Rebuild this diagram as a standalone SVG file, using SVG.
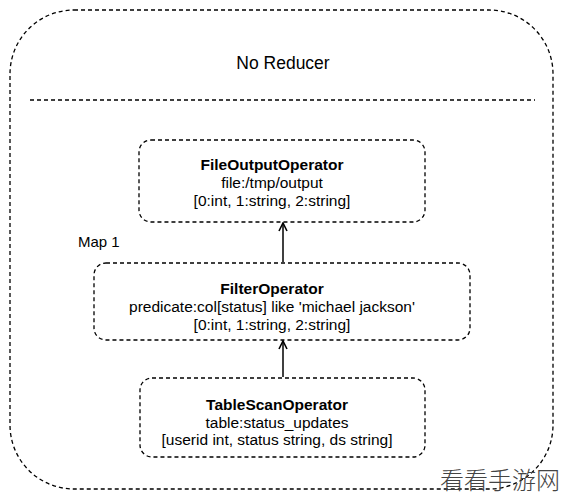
<svg xmlns="http://www.w3.org/2000/svg" width="565" height="500" viewBox="0 0 565 500">
<defs>
<style>
.dash{fill:none;stroke:#000;stroke-width:1.3;stroke-dasharray:4 3}
.t{font-family:"Liberation Sans",Arial,sans-serif;font-size:15.5px;fill:#000;text-anchor:middle}
.b{font-weight:bold}
.c{stroke:#000;stroke-width:1.5;fill:none}
</style>
<marker id="ah" viewBox="0 0 10 10" refX="9" refY="5" markerWidth="10" markerHeight="10" markerUnits="userSpaceOnUse" orient="auto">
<path d="M1,1 L9,5 L1,9" fill="none" stroke="#000" stroke-width="1.6"/>
</marker>
</defs>
<rect width="565" height="500" fill="#fff"/>
<g id="container">
<rect class="dash" x="10" y="10" width="543" height="479" rx="64" ry="64"/>
<text class="t" x="283" y="69" style="font-size:17.5px">No Reducer</text>
<line class="dash" x1="30" y1="100" x2="535" y2="100"/>
<text class="t" x="78" y="247" style="text-anchor:start;font-size:15px">Map 1</text>
</g>
<g id="fileoutput">
<rect class="dash" x="139" y="140" width="286" height="82" rx="12" ry="12"/>
<text class="t b" x="272" y="170">FileOutputOperator</text>
<text class="t" x="272" y="188">file:/tmp/output</text>
<text class="t" x="272" y="206">[0:int, 1:string, 2:string]</text>
</g>
<g id="filter">
<rect class="dash" x="94" y="263" width="376" height="77" rx="12" ry="12"/>
<text class="t b" x="272" y="294">FilterOperator</text>
<text class="t" x="272" y="312">predicate:col[status] like 'michael jackson'</text>
<text class="t" x="272" y="330">[0:int, 1:string, 2:string]</text>
</g>
<g id="tablescan">
<rect class="dash" x="140" y="378" width="285" height="79" rx="12" ry="12"/>
<text class="t b" x="277" y="410">TableScanOperator</text>
<text class="t" x="277" y="428">table:status_updates</text>
<text class="t" x="277" y="445">[userid int, status string, ds string]</text>
</g>
<g id="connectors">
<line class="c" x1="283" y1="262" x2="283" y2="223" marker-end="url(#ah)"/>
<line class="c" x1="283" y1="377" x2="283" y2="341" marker-end="url(#ah)"/>
</g>
<text x="440" y="489" style="font-family:'Noto Sans CJK SC',sans-serif;font-size:24px;font-weight:300;fill:#444">看看手游网</text>
</svg>
